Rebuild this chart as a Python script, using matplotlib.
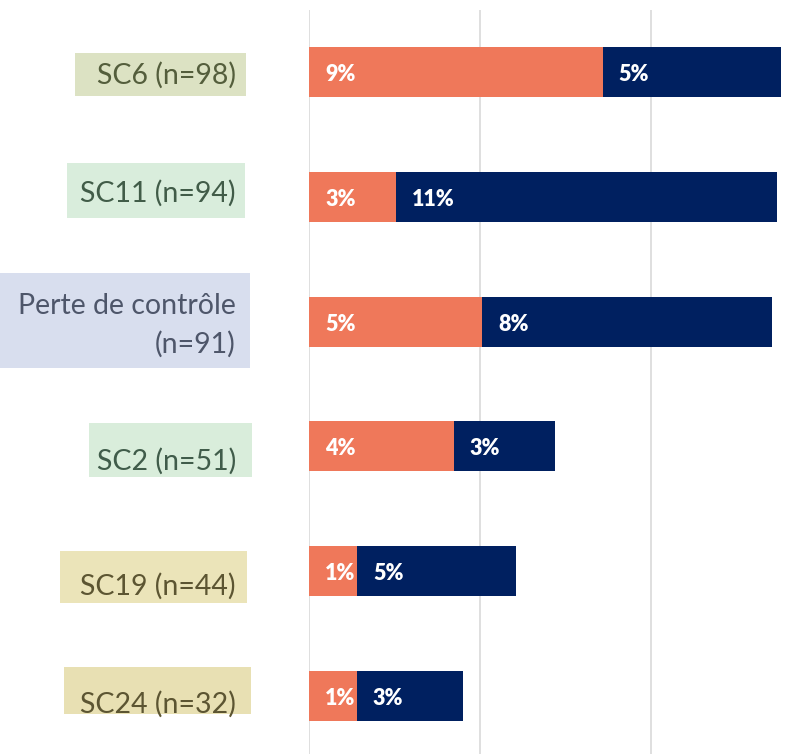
import numpy as np
import matplotlib.pyplot as plt
from matplotlib.patches import Rectangle

# data (percent)
categories = ["SC6 (n=98)", "SC11 (n=94)", "Perte de contrôle\n(n=91)",
              "SC2 (n=51)", "SC19 (n=44)", "SC24 (n=32)"]
orange_vals = [8.59, 2.54, 5.07, 4.23, 1.40, 1.40]
navy_vals = [5.21, 11.14, 8.46, 2.95, 4.65, 3.10]

# label box styling / layout (pixels, relative to the row centre)
box_colors = ["#DCE2C3", "#D9EDDC", "#D8DEEE", "#D9EDDB", "#EBE4B9", "#E8E0B3"]
text_colors = ["#545E3C", "#415C48", "#4E566A", "#405C4A", "#5C5532", "#5C5532"]
box_x = [(75, 246), (67, 245), (0, 250), (89, 252), (60, 247), (64, 251)]
box_y = [(-19, 24), (-34, 21), (-49, 46), (-23, 31), (-20, 32), (-29, 18)]
base_off = [12, 5, 31, 23, 24, 17]   # baseline of the last text line

ORANGE = "#EF785A"
NAVY = "#002060"
W, H = 812, 754
X0_PX, UNIT_PX = 309, 34.2
FIRST_PX, ROW_PX, TOP_PX = 72, 124.8, 10

plt.rcParams['font.family'] = ['Lato', 'DejaVu Sans']

fig = plt.figure(figsize=(W / 100, H / 100), dpi=100)

# overlay for the category labels
lab = fig.add_axes([0, 0, 1, 1])
lab.set_xlim(0, W)
lab.set_ylim(H, 0)
lab.axis("off")

ax = fig.add_axes([X0_PX / W, 0, (W - X0_PX) / W, (H - TOP_PX) / H])
ax.set_xlim(0, (W - X0_PX) / UNIT_PX)
ax.set_ylim((H - FIRST_PX) / ROW_PX, -(FIRST_PX - TOP_PX) / ROW_PX)
ax.patch.set_alpha(0)
for s in ax.spines.values():
    s.set_visible(False)
ax.set_xticks([])
ax.set_yticks([])
for g in [0, 5, 10]:
    ax.axvline(g, color="#D9D9D9", lw=1.2, zorder=0)

y = np.arange(len(categories))
ax.barh(y, orange_vals, height=0.4, color=ORANGE, zorder=2)
ax.barh(y, navy_vals, left=orange_vals, height=0.4, color=NAVY, zorder=2)

pad = 16 / UNIT_PX
for i in range(len(categories)):
    ax.text(pad, i + 0.02, f"{orange_vals[i]:.0f}%", color="white",
            fontsize=15.5, fontweight="heavy", ha="left", va="center", zorder=3)
    ax.text(orange_vals[i] + pad, i + 0.02, f"{navy_vals[i]:.0f}%", color="white",
            fontsize=15.5, fontweight="heavy", ha="left", va="center", zorder=3)

    c = FIRST_PX + i * ROW_PX
    x0, x1 = box_x[i]
    y0, y1 = box_y[i]
    lab.add_patch(Rectangle((x0, c + y0), x1 - x0, y1 - y0,
                            color=box_colors[i], lw=0))
    lab.text(236, c + base_off[i], categories[i], ha="right", va="baseline",
             fontsize=20.5, color=text_colors[i], linespacing=1.55,
             multialignment="right")

fig.savefig("out.png", dpi=100)
